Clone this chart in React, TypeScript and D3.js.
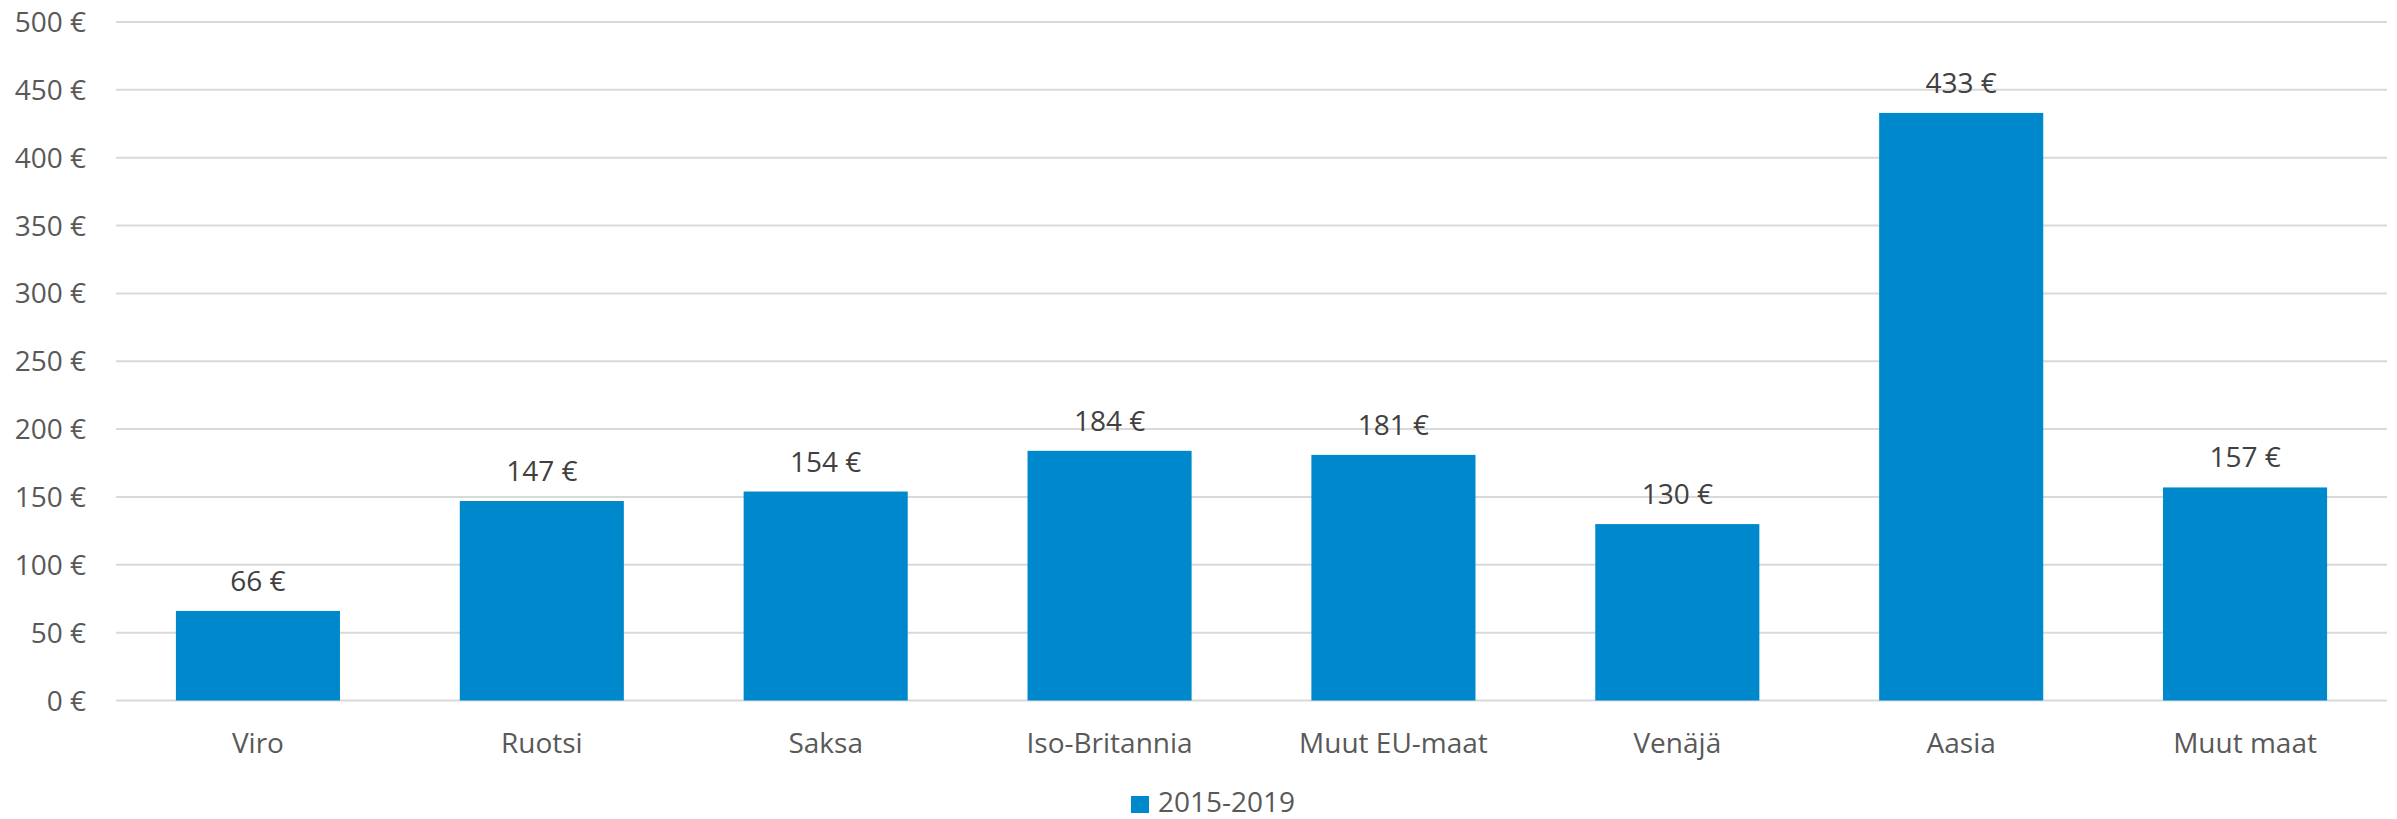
import React from "react";
import * as d3 from "d3";

const categories = ["Viro", "Ruotsi", "Saksa", "Iso-Britannia", "Muut EU-maat", "Venäjä", "Aasia", "Muut maat"];
const values = [66, 147, 154, 184, 181, 130, 433, 157];
const yTicks = [0, 50, 100, 150, 200, 250, 300, 350, 400, 450, 500];
const seriesName = "2015-2019";

const W = 2397;
const H = 819;
const left = 116;
const right = 2387;
const top = 22;
const bottom = 700.5;
const font = "'Open Sans', sans-serif";
const barColor = "#0088CC";

export default function App() {
  const x = d3.scaleBand<string>().domain(categories).range([left, right]).paddingInner(0.422).paddingOuter(0.211);
  const y = d3.scaleLinear().domain([0, 500]).range([bottom, top]);
  const fmt = (v: number) => `${v} €`;
  return (
    <svg width={W} height={H} style={{ position: "absolute", left: 0, top: 0, background: "#fff" }}>
      {yTicks.map((t) => (
        <g key={t}>
          <line x1={left} x2={right} y1={y(t)} y2={y(t)} stroke="#d9d9d9" strokeWidth={2} />
          <text x={86} y={y(t) + 10} textAnchor="end" fontFamily={font} fontSize={28} fill="#595959">
            {fmt(t)}
          </text>
        </g>
      ))}
      {categories.map((c, i) => {
        const bx = x(c)!;
        const bw = x.bandwidth();
        return (
          <g key={c}>
            <rect x={bx} y={y(values[i])} width={bw} height={y(0) - y(values[i])} fill={barColor} />
            <text x={bx + bw / 2} y={y(values[i]) - 20} textAnchor="middle" fontFamily={font} fontSize={28} fill="#404040">
              {fmt(values[i])}
            </text>
            <text x={bx + bw / 2} y={753} textAnchor="middle" fontFamily={font} fontSize={28} fill="#595959">
              {c}
            </text>
          </g>
        );
      })}
      <rect x={1131} y={796} width={18} height={17} fill={barColor} />
      <text x={1158} y={812} fontFamily={font} fontSize={28} fill="#595959">
        {seriesName}
      </text>
    </svg>
  );
}
